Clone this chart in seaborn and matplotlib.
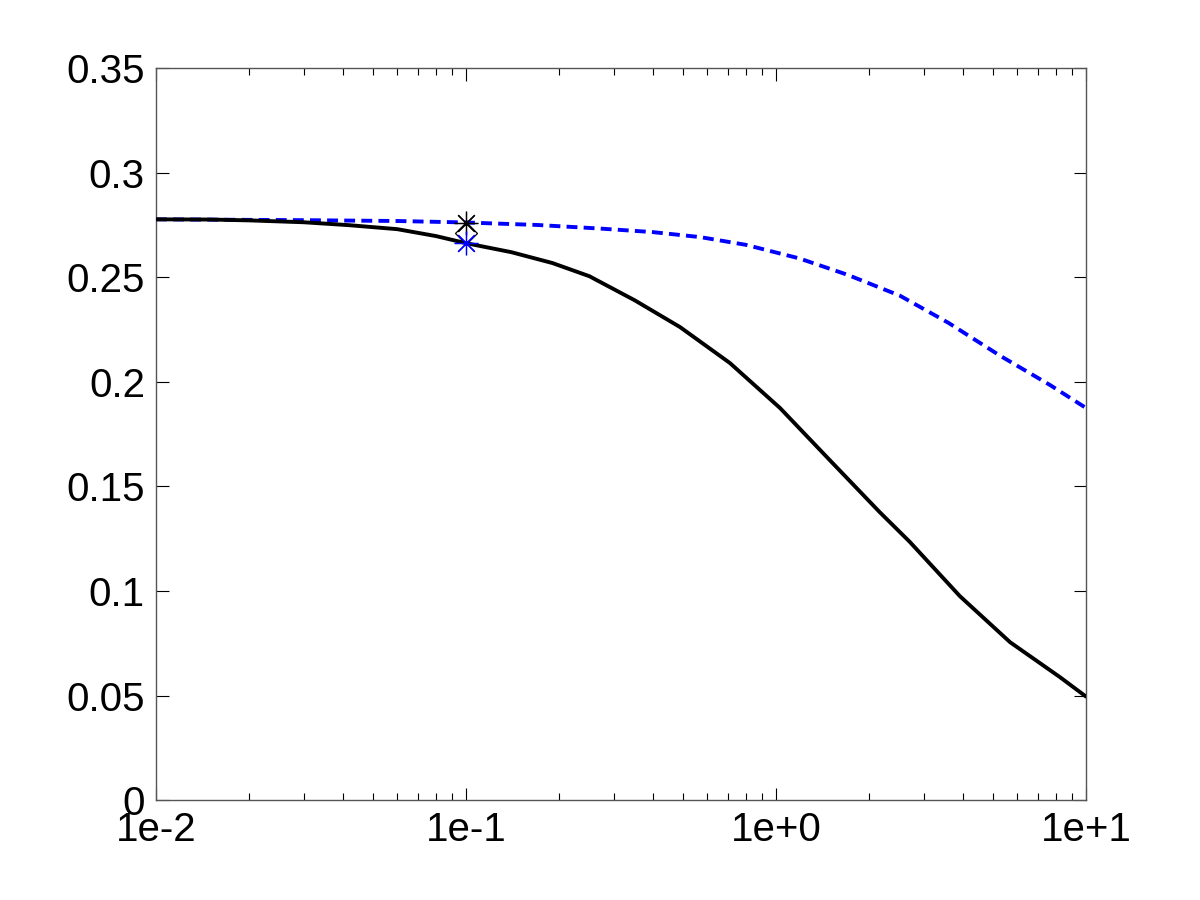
"""Recreate the two-curve log-x chart."""

import matplotlib

matplotlib.use("Agg")
import matplotlib.pyplot as plt
import numpy as np
import pandas as pd
import seaborn as sns
from matplotlib.ticker import LogLocator, NullFormatter

# solid black curve
solid_x = [0.01, 0.015, 0.02, 0.03, 0.042, 0.06, 0.08, 0.1, 0.14, 0.19, 0.25,
           0.35, 0.49, 0.71, 1.03, 1.49, 2.16, 2.7, 3.92, 5.69, 8.24, 10.0]
solid_y = [0.2777, 0.2776, 0.2772, 0.2763, 0.2749, 0.2730, 0.2697, 0.2663,
           0.2620, 0.2568, 0.2505, 0.2390, 0.2262, 0.2090, 0.1875, 0.1626,
           0.1377, 0.1235, 0.0975, 0.0755, 0.0588, 0.0495]

# dashed blue curve
dashed_x = [0.01, 0.03, 0.06, 0.1, 0.17, 0.27, 0.4, 0.57, 0.8, 1.19, 1.7,
            2.51, 3.6, 5.28, 7.65, 10.0]
dashed_y = [0.2777, 0.2773, 0.2769, 0.2762, 0.2750, 0.2733, 0.2716, 0.2692,
            0.2655, 0.2590, 0.2512, 0.2412, 0.2282, 0.2125, 0.1985, 0.1875]

marker_x = [0.1]
marker_black_star = [0.2761]
marker_diamond = [0.2712]
marker_blue_star = [0.2663]

xtick_vals = [0.01, 0.1, 1, 10]
xtick_labels = ["1e-2", "1e-1", "1e+0", "1e+1"]
ytick_vals = [0, 0.05, 0.1, 0.15, 0.2, 0.25, 0.3, 0.35]
ytick_labels = ["0", "0.05", "0.1", "0.15", "0.2", "0.25", "0.3", "0.35"]

sns.set_style("ticks")
plt.rcParams["font.family"] = ["Liberation Sans", "DejaVu Sans"]
plt.rcParams["text.color"] = "black"
plt.rcParams["xtick.color"] = "black"
plt.rcParams["ytick.color"] = "black"

solid_df = pd.DataFrame({"x": solid_x, "y": solid_y})
dashed_df = pd.DataFrame({"x": dashed_x, "y": dashed_y})

fig = plt.figure(figsize=(12, 9), dpi=100)
ax = fig.add_axes([0.13, 0.111, 0.775, 0.8133])

sns.lineplot(data=dashed_df, x="x", y="y", ax=ax, color="#0000ff", lw=2.8,
             linestyle=(0, (2.8, 1.6)), zorder=2)
sns.lineplot(data=solid_df, x="x", y="y", ax=ax, color="black", lw=2.8,
             zorder=3)

star = (8, 2, 0)
ax.plot(marker_x, marker_black_star, ls="none", marker=star, ms=17, mew=0.9,
        color="black", zorder=4)
ax.plot(marker_x, marker_diamond, ls="none", marker="D", ms=11, mew=0.9,
        mfc="none", mec="black", zorder=4)
ax.plot(marker_x, marker_blue_star, ls="none", marker=star, ms=17, mew=0.9,
        color="#0000ff", zorder=4)

ax.set_xscale("log")
ax.set_xlim(0.01, 10)
ax.set_ylim(0, 0.35)
ax.set_xticks(xtick_vals, xtick_labels)
ax.set_yticks(ytick_vals, ytick_labels)
ax.xaxis.set_minor_locator(LogLocator(base=10, subs=np.arange(2, 10), numticks=20))
ax.xaxis.set_minor_formatter(NullFormatter())
ax.set_xlabel("")
ax.set_ylabel("")

ax.tick_params(which="both", direction="in", top=True, right=True,
               labelsize=29, width=0.8, labelcolor="black")
ax.tick_params(which="major", length=9, pad=8)
ax.tick_params(which="minor", length=5)
for spine in ax.spines.values():
    spine.set_visible(True)
    spine.set_color("#555555")
    spine.set_linewidth(1.0)

fig.savefig("out.png", dpi=100)
